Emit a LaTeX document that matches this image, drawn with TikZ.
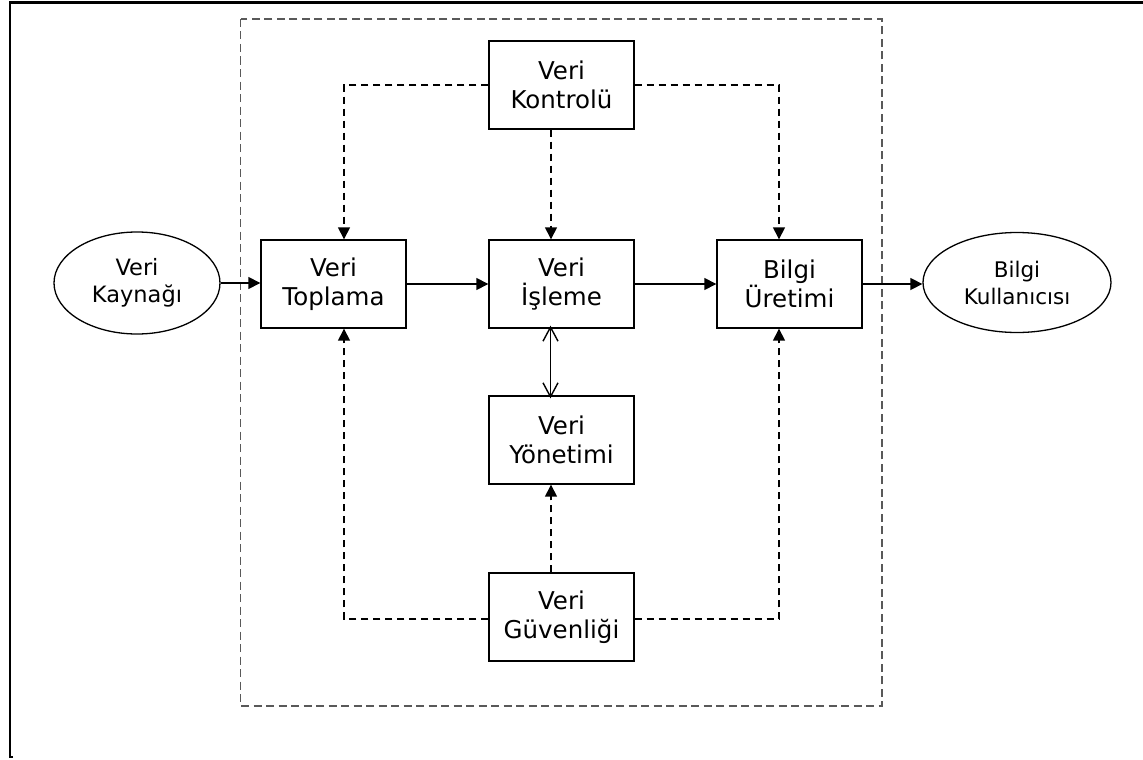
\documentclass[tikz,border=0pt]{standalone}
\usepackage{fontspec}
\setmainfont{DejaVu Sans}
\usetikzlibrary{arrows.meta,shapes.geometric}
\begin{document}
\begin{tikzpicture}[x=1bp,y=-1bp,
  box/.style={draw, line width=1.4bp, minimum width=145bp, minimum height=88bp,
    inner sep=0pt, align=center, font=\fontsize{24.5bp}{29bp}\selectfont},
  oval/.style={draw, ellipse, line width=1.3bp, inner sep=0pt, align=center},
  flow/.style={line width=1.5bp, -{Triangle[width=12bp,length=12bp]}},
  ctrl/.style={line width=1.5bp, dash pattern=on 7bp off 5bp, -{Triangle[width=12bp,length=12bp]}},
  link/.style={line width=1.4bp, {Straight Barb[width=15bp,length=14bp,line width=1.4bp]}-{Straight Barb[width=15bp,length=14bp,line width=1.4bp]}},
  frame/.style={draw=black!65, line width=1.4bp, dash pattern=on 8bp off 4.5bp}
]
\useasboundingbox (0,0) rectangle (1143,760);

% page border
\draw[line width=2.5bp] (13,757) -- (10,757) -- (10,2.5) -- (1143,2.5);

% system boundary
\draw[frame] (240.5,19) rectangle (882,706);

% nodes
\node[box] (kontrol)  at (561.5,85)  {Veri\\Kontrolü};
\node[box] (toplama)  at (333.5,284) {Veri\\Toplama};
\node[box] (isleme)   at (561.5,284) {Veri\\İşleme};
\node[box] (uretim)   at (789.5,284) {Bilgi\\Üretimi};
\node[box] (yonetim)  at (561.5,440) {Veri\\Yönetimi};
\node[box] (guvenlik) at (561.5,617) {Veri\\Güvenliği};
\node[oval, minimum width=166bp, minimum height=102bp,
      font=\fontsize{22.5bp}{27bp}\selectfont] (kaynak) at (137,283) {Veri\\Kaynağı};
\node[oval, minimum width=188bp, minimum height=100bp,
      font=\fontsize{21.5bp}{27bp}\selectfont] (kullanici) at (1017,282.5) {Bilgi\\Kullanıcısı};

% main data flow
\draw[flow] (kaynak.east) -- (toplama.west |- kaynak.east);
\draw[flow] (toplama.east |- 0,284) -- (isleme.west |- 0,284);
\draw[flow] (isleme.east |- 0,284) -- (uretim.west |- 0,284);
\draw[flow] (uretim.east |- 0,284) -- (kullanici.west |- 0,284);

% control paths
\draw[ctrl] (kontrol.west) -| ([xshift=10.5bp]toplama.north);
\draw[ctrl] (kontrol.east) -| ([xshift=-10.5bp]uretim.north);
\draw[ctrl] ([xshift=-10.5bp]kontrol.south) -- ([xshift=-10.5bp]isleme.north);

% security paths
\draw[ctrl] ([yshift=-2bp]guvenlik.west) -| ([xshift=10.5bp]toplama.south);
\draw[ctrl] ([yshift=-2bp]guvenlik.east) -| ([xshift=-10.5bp]uretim.south);
\draw[ctrl] ([xshift=-10.5bp]guvenlik.north) -- ([xshift=-10.5bp]yonetim.south);

% processing <-> management
\draw[link] ([xshift=-11bp,yshift=3bp]isleme.south) -- ([xshift=-11bp,yshift=-3bp]yonetim.north);
\end{tikzpicture}
\end{document}
